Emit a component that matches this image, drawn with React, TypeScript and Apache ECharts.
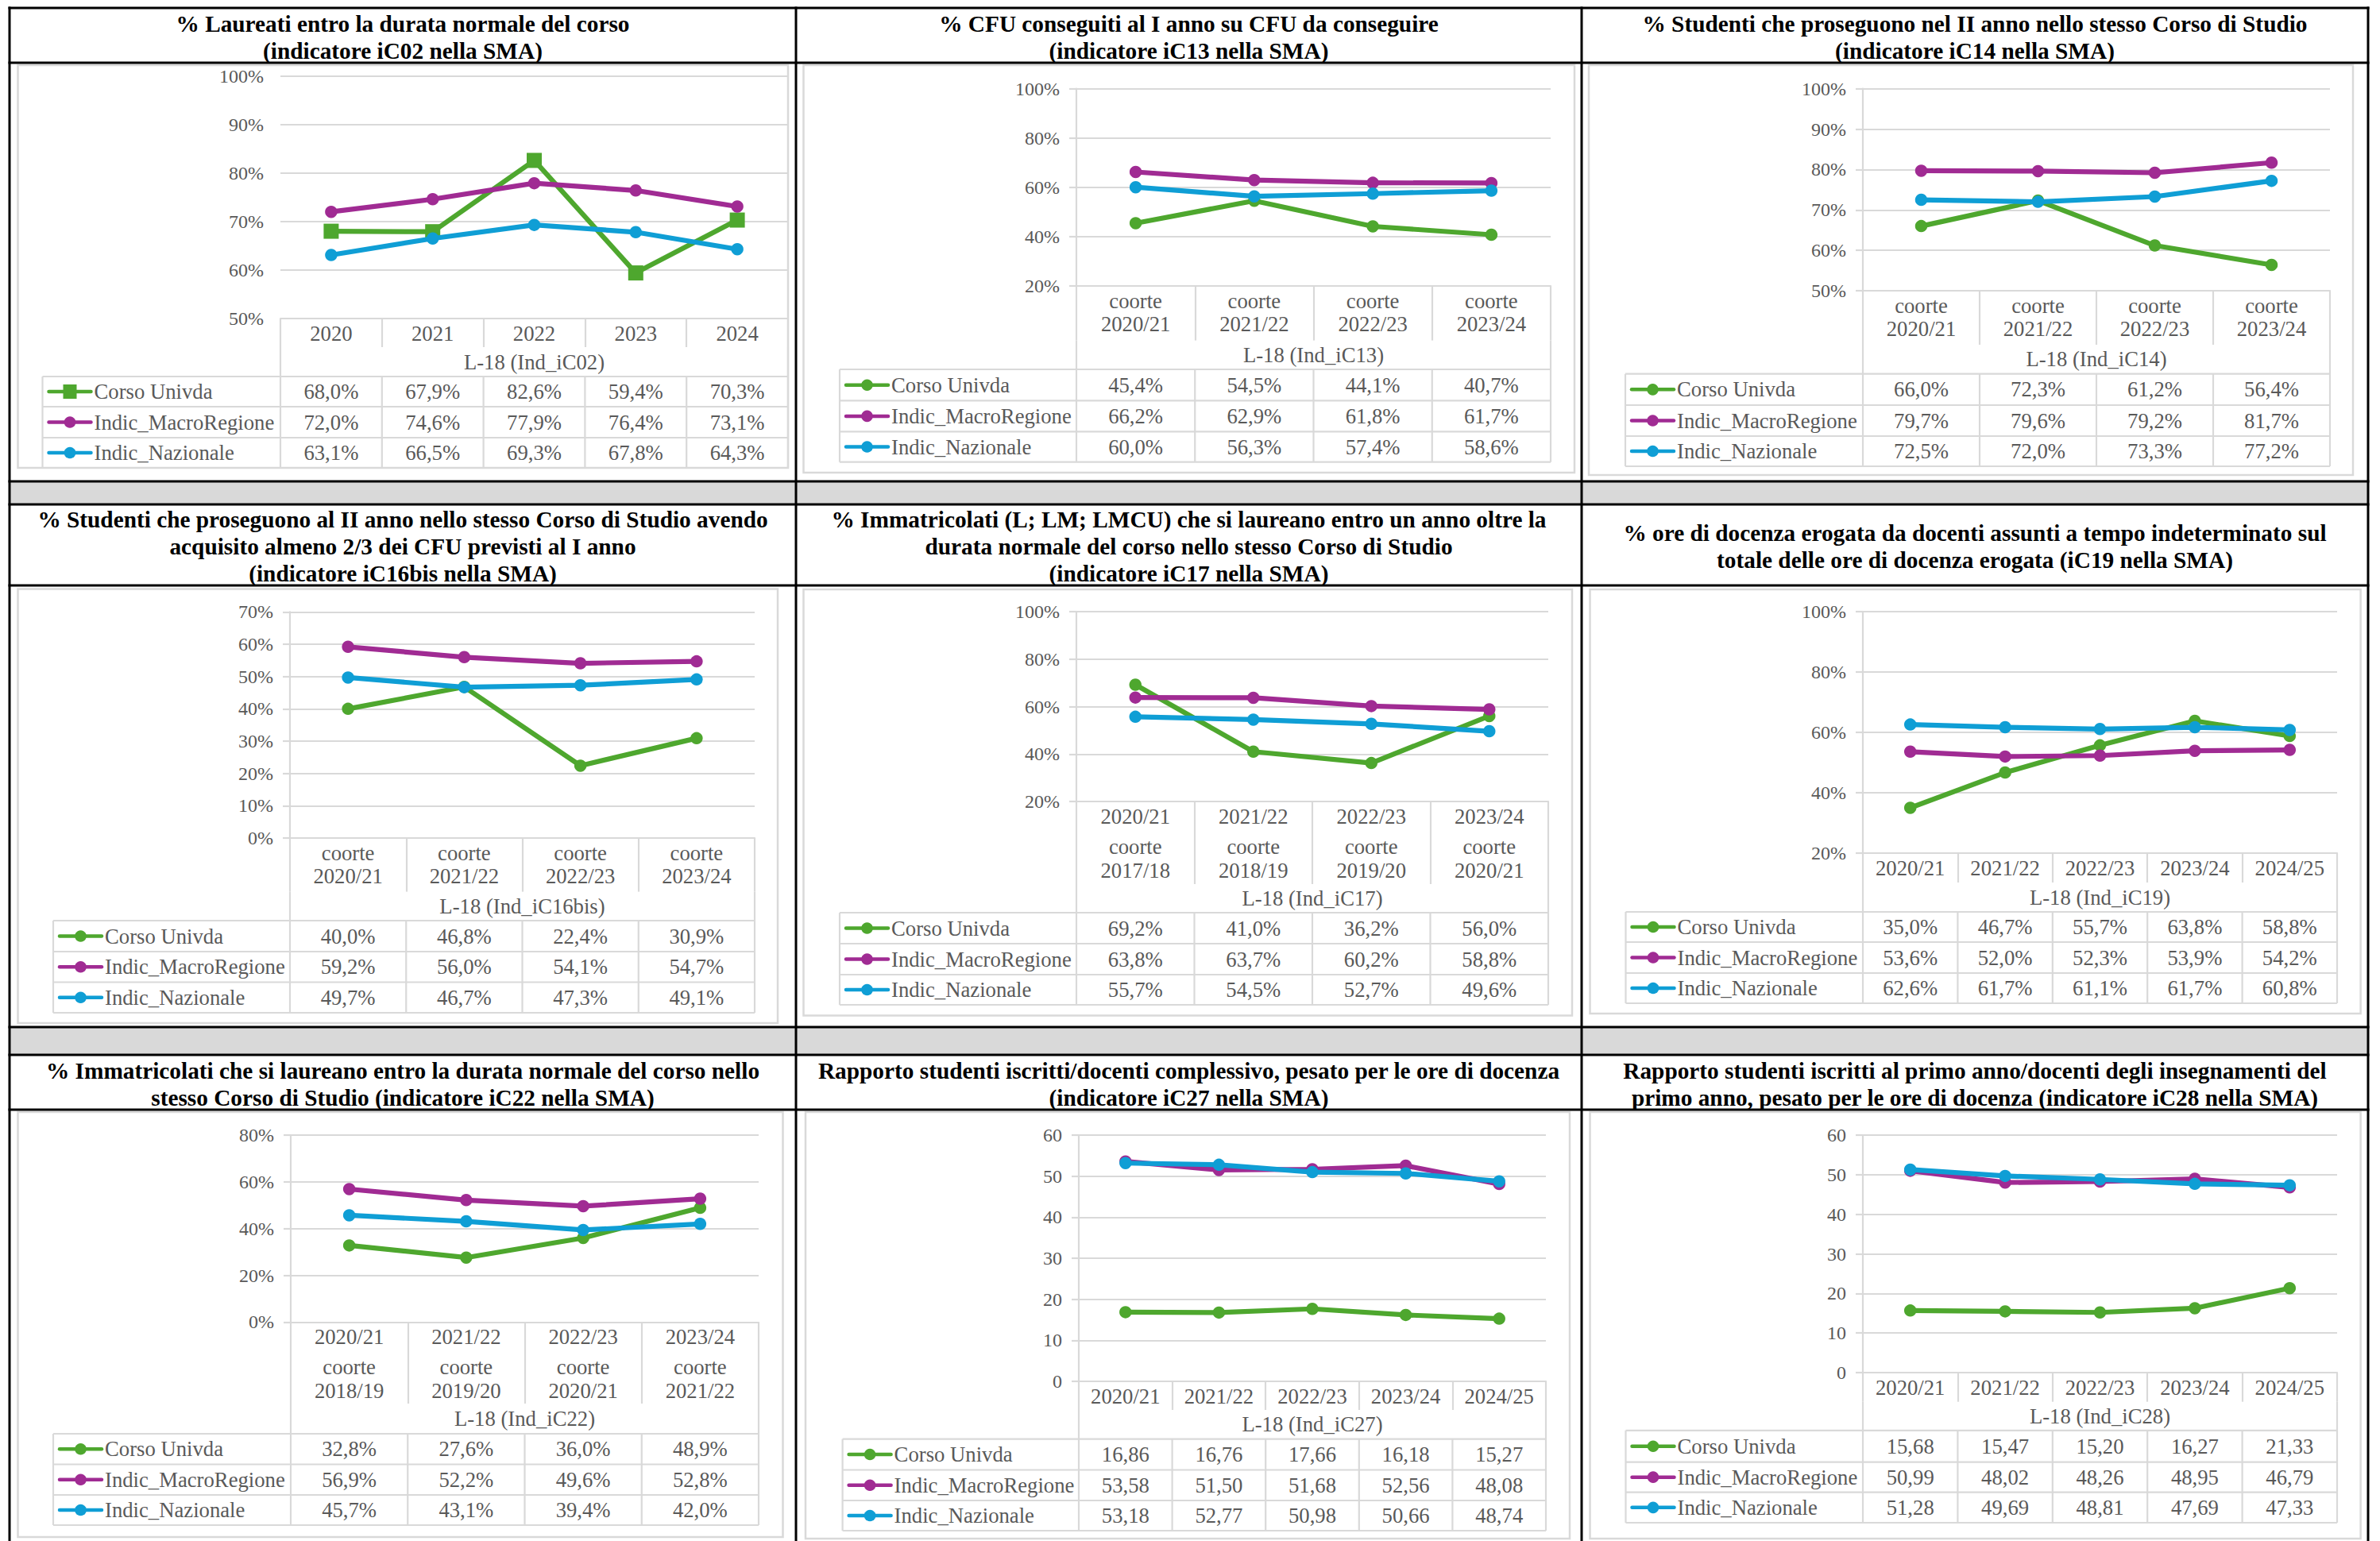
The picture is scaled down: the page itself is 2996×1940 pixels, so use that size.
import React, { useEffect, useRef } from "react";
import * as echarts from "echarts";

// ---------- data ----------
const SERIES_NAMES = ["Corso Univda", "Indic_MacroRegione", "Indic_Nazionale"];
const SERIES_COLORS = ["#4EA72E", "#A02B93", "#0F9ED5"];

const p1Title = ["% Laureati entro la durata normale del corso", "(indicatore iC02 nella SMA)"];
const p1AxisTitle = "L-18 (Ind_iC02)";
const p1Categories = ["2020", "2021", "2022", "2023", "2024"];
const p1Corso = [68.0, 67.9, 82.6, 59.4, 70.3];
const p1Macro = [72.0, 74.6, 77.9, 76.4, 73.1];
const p1Naz = [63.1, 66.5, 69.3, 67.8, 64.3];

const p2Title = ["% CFU conseguiti al I anno su CFU da conseguire", "(indicatore iC13 nella SMA)"];
const p2AxisTitle = "L-18 (Ind_iC13)";
const p2Categories = ["coorte\n2020/21", "coorte\n2021/22", "coorte\n2022/23", "coorte\n2023/24"];
const p2Corso = [45.4, 54.5, 44.1, 40.7];
const p2Macro = [66.2, 62.9, 61.8, 61.7];
const p2Naz = [60.0, 56.3, 57.4, 58.6];

const p3Title = ["% Studenti che proseguono nel II anno nello stesso Corso di Studio", "(indicatore iC14 nella SMA)"];
const p3AxisTitle = "L-18 (Ind_iC14)";
const p3Categories = ["coorte\n2020/21", "coorte\n2021/22", "coorte\n2022/23", "coorte\n2023/24"];
const p3Corso = [66.0, 72.3, 61.2, 56.4];
const p3Macro = [79.7, 79.6, 79.2, 81.7];
const p3Naz = [72.5, 72.0, 73.3, 77.2];

const p4Title = [
  "% Studenti che proseguono al II anno nello stesso Corso di Studio avendo",
  "acquisito almeno 2/3 dei CFU previsti al I anno",
  "(indicatore iC16bis nella SMA)",
];
const p4AxisTitle = "L-18 (Ind_iC16bis)";
const p4Categories = ["coorte\n2020/21", "coorte\n2021/22", "coorte\n2022/23", "coorte\n2023/24"];
const p4Corso = [40.0, 46.8, 22.4, 30.9];
const p4Macro = [59.2, 56.0, 54.1, 54.7];
const p4Naz = [49.7, 46.7, 47.3, 49.1];

const p5Title = [
  "% Immatricolati (L; LM; LMCU) che si laureano entro un anno oltre la",
  "durata normale del corso nello stesso Corso di Studio",
  "(indicatore iC17 nella SMA)",
];
const p5AxisTitle = "L-18 (Ind_iC17)";
const p5Categories = ["2020/21\ncoorte\n2017/18", "2021/22\ncoorte\n2018/19", "2022/23\ncoorte\n2019/20", "2023/24\ncoorte\n2020/21"];
const p5Corso = [69.2, 41.0, 36.2, 56.0];
const p5Macro = [63.8, 63.7, 60.2, 58.8];
const p5Naz = [55.7, 54.5, 52.7, 49.6];

const p6Title = [
  "% ore di docenza erogata da docenti assunti a tempo indeterminato sul",
  "totale delle ore di docenza erogata (iC19 nella SMA)",
];
const p6AxisTitle = "L-18 (Ind_iC19)";
const p6Categories = ["2020/21", "2021/22", "2022/23", "2023/24", "2024/25"];
const p6Corso = [35.0, 46.7, 55.7, 63.8, 58.8];
const p6Macro = [53.6, 52.0, 52.3, 53.9, 54.2];
const p6Naz = [62.6, 61.7, 61.1, 61.7, 60.8];

const p7Title = [
  "% Immatricolati che si laureano entro la durata normale del corso nello",
  "stesso Corso di Studio (indicatore iC22 nella SMA)",
];
const p7AxisTitle = "L-18 (Ind_iC22)";
const p7Categories = ["2020/21\ncoorte\n2018/19", "2021/22\ncoorte\n2019/20", "2022/23\ncoorte\n2020/21", "2023/24\ncoorte\n2021/22"];
const p7Corso = [32.8, 27.6, 36.0, 48.9];
const p7Macro = [56.9, 52.2, 49.6, 52.8];
const p7Naz = [45.7, 43.1, 39.4, 42.0];

const p8Title = [
  "Rapporto studenti iscritti/docenti complessivo, pesato per le ore di docenza",
  "(indicatore iC27 nella SMA)",
];
const p8AxisTitle = "L-18 (Ind_iC27)";
const p8Categories = ["2020/21", "2021/22", "2022/23", "2023/24", "2024/25"];
const p8Corso = [16.86, 16.76, 17.66, 16.18, 15.27];
const p8Macro = [53.58, 51.50, 51.68, 52.56, 48.08];
const p8Naz = [53.18, 52.77, 50.98, 50.66, 48.74];

const p9Title = [
  "Rapporto studenti iscritti al primo anno/docenti degli insegnamenti del",
  "primo anno, pesato per le ore di docenza (indicatore iC28 nella SMA)",
];
const p9AxisTitle = "L-18 (Ind_iC28)";
const p9Categories = ["2020/21", "2021/22", "2022/23", "2023/24", "2024/25"];
const p9Corso = [15.68, 15.47, 15.20, 16.27, 21.33];
const p9Macro = [50.99, 48.02, 48.26, 48.95, 46.79];
const p9Naz = [51.28, 49.69, 48.81, 47.69, 47.33];

// y axis scales: [min, max, step]
const p1Scale = [50, 100, 10];
const p2Scale = [20, 100, 20];
const p3Scale = [50, 100, 10];
const p4Scale = [0, 70, 10];
const p5Scale = [20, 100, 20];
const p6Scale = [20, 100, 20];
const p7Scale = [0, 80, 20];
const p8Scale = [0, 60, 10];
const p9Scale = [0, 60, 10];

const PANELS = [
  { title: p1Title, axisTitle: p1AxisTitle, categories: p1Categories, values: [p1Corso, p1Macro, p1Naz], scale: p1Scale, pct: true, decimals: 1, square: true },
  { title: p2Title, axisTitle: p2AxisTitle, categories: p2Categories, values: [p2Corso, p2Macro, p2Naz], scale: p2Scale, pct: true, decimals: 1 },
  { title: p3Title, axisTitle: p3AxisTitle, categories: p3Categories, values: [p3Corso, p3Macro, p3Naz], scale: p3Scale, pct: true, decimals: 1 },
  { title: p4Title, axisTitle: p4AxisTitle, categories: p4Categories, values: [p4Corso, p4Macro, p4Naz], scale: p4Scale, pct: true, decimals: 1 },
  { title: p5Title, axisTitle: p5AxisTitle, categories: p5Categories, values: [p5Corso, p5Macro, p5Naz], scale: p5Scale, pct: true, decimals: 1 },
  { title: p6Title, axisTitle: p6AxisTitle, categories: p6Categories, values: [p6Corso, p6Macro, p6Naz], scale: p6Scale, pct: true, decimals: 1 },
  { title: p7Title, axisTitle: p7AxisTitle, categories: p7Categories, values: [p7Corso, p7Macro, p7Naz], scale: p7Scale, pct: true, decimals: 1 },
  { title: p8Title, axisTitle: p8AxisTitle, categories: p8Categories, values: [p8Corso, p8Macro, p8Naz], scale: p8Scale, pct: false, decimals: 2 },
  { title: p9Title, axisTitle: p9AxisTitle, categories: p9Categories, values: [p9Corso, p9Macro, p9Naz], scale: p9Scale, pct: false, decimals: 2 },
];

// ---------- layout (pixels) ----------
const COLS = [12, 1002, 1991, 2981];
const TITLE_ROWS = [[10, 79], [635, 737], [1328, 1397]];
const H_BORDERS = [10, 79, 606, 635, 737, 1293, 1328, 1397];
const GRAY_ROWS = [[606, 635], [1293, 1328]];

const LAYOUTS = [
  { frame: [22.5, 82, 992, 589], plot: [353, 95.7, 992, 401], catB: 437, titleB: 474, rows: [512, 551, 589], legL: 53.5, yLine: false },
  { frame: [1011.5, 82, 1982, 595], plot: [1355, 111.7, 1952, 359.7], catB: 428.6, titleB: 465, rows: [504.4, 543.4, 581.7], legL: 1057, yLine: true },
  { frame: [2000, 82, 2962, 598], plot: [2345, 111.7, 2933, 366], catB: 434, titleB: 470.7, rows: [510, 549, 587], legL: 2046, yLine: true },
  { frame: [22.5, 741.5, 979, 1288], plot: [365, 770.4, 950, 1055], catB: 1122.6, titleB: 1159, rows: [1198, 1236.5, 1275], legL: 67, yLine: true },
  { frame: [1011.5, 742, 1979, 1278.6], plot: [1355, 770, 1949, 1009], catB: 1113, titleB: 1149, rows: [1188, 1227, 1265], legL: 1057, yLine: true },
  { frame: [2001.5, 742, 2971.6, 1276], plot: [2345, 770, 2942, 1074], catB: 1111, titleB: 1148, rows: [1186, 1225, 1263], legL: 2046.5, yLine: true },
  { frame: [22.5, 1400, 985.5, 1935], plot: [366, 1429, 955, 1664.4], catB: 1767, titleB: 1805, rows: [1843.5, 1882, 1920], legL: 67, yLine: true },
  { frame: [1014, 1400, 1976, 1937], plot: [1358, 1429, 1946, 1739], catB: 1775, titleB: 1811.6, rows: [1850.5, 1889, 1927], legL: 1060.6, yLine: true },
  { frame: [2001.5, 1400, 2971.6, 1937], plot: [2345, 1429, 2942, 1728], catB: 1764.7, titleB: 1800.8, rows: [1840.6, 1878.7, 1917], legL: 2046.5, yLine: true },
];

const FONT = "'Liberation Serif', 'Times New Roman', serif";
const GRAYTXT = "#595959";
const LIGHT = "#D9D9D9";
const TABLE_FS = 26.7;
const AXIS_FS = 24;
const TITLE_FS = 29.3;
const THIN = 2.2;

function fmt(v: number, decimals: number, pct: boolean) {
  return v.toFixed(decimals).replace(".", ",") + (pct ? "%" : "");
}

function txt(text: string, x: number, y: number, opts: any = {}) {
  return {
    type: "text",
    x,
    y,
    silent: true,
    z: opts.z ?? 10,
    style: {
      text,
      fill: opts.fill ?? GRAYTXT,
      fontSize: opts.fontSize ?? TABLE_FS,
      fontFamily: FONT,
      fontWeight: opts.fontWeight ?? "normal",
      align: opts.align ?? "center",
      textAlign: opts.align ?? "center",
      verticalAlign: "middle",
      textVerticalAlign: "middle",
      lineHeight: opts.lineHeight,
    },
  };
}

function line(x1: number, y1: number, x2: number, y2: number, stroke: string, lineWidth: number, z = 5, cap = "butt") {
  return { type: "line", silent: true, z, shape: { x1, y1, x2, y2 }, style: { stroke, lineWidth, lineCap: cap } };
}

function buildOption() {
  const grids: any[] = [];
  const xAxes: any[] = [];
  const yAxes: any[] = [];
  const series: any[] = [];
  const graphics: any[] = [];

  GRAY_ROWS.forEach(([a, b]) => {
    graphics.push({ type: "rect", silent: true, z: 1, shape: { x: COLS[0], y: a, width: COLS[3] - COLS[0], height: b - a }, style: { fill: "#D9D9D9" } });
  });
  H_BORDERS.forEach((y) => graphics.push(line(COLS[0] - 1.5, y, COLS[3] + 1.5, y, "#000", 3, 20)));
  COLS.forEach((x) => graphics.push(line(x, H_BORDERS[0] - 1.5, x, 1945, "#000", 3, 20)));

  PANELS.forEach((p, i) => {
    const L = LAYOUTS[i];
    const [pl, pt, pr, pb] = L.plot;
    const n = p.categories.length;
    const colW = (pr - pl) / n;
    const col = i % 3;
    const row = Math.floor(i / 3);

    const [ta, tb] = TITLE_ROWS[row];
    graphics.push(
      txt(p.title.join("\n"), (COLS[col] + COLS[col + 1]) / 2, (ta + tb) / 2 + 2, {
        fill: "#000",
        fontSize: TITLE_FS,
        fontWeight: "bold",
        lineHeight: 34,
      })
    );

    const [fl, ft, fr, fb] = L.frame;
    graphics.push({ type: "rect", silent: true, z: 2, shape: { x: fl, y: ft, width: fr - fl, height: fb - ft }, style: { fill: "none", stroke: LIGHT, lineWidth: 2.5 } });

    graphics.push(line(pl, L.catB, pl, L.rows[2], LIGHT, THIN));
    graphics.push(line(pr, L.catB, pr, L.rows[2], LIGHT, THIN));
    graphics.push(line(L.legL, L.titleB, L.legL, L.rows[2], LIGHT, THIN));
    [L.titleB, ...L.rows].forEach((y) => graphics.push(line(L.legL, y, pr, y, LIGHT, THIN)));
    for (let k = 1; k < n; k++) {
      const x = pl + colW * k;
      graphics.push(line(x, L.titleB, x, L.rows[2], LIGHT, THIN));
    }

    p.values.forEach((vals, s) => {
      const top = s === 0 ? L.titleB : L.rows[s - 1];
      const cy = (top + L.rows[s]) / 2;
      const kx1 = L.legL + 8;
      const kx2 = L.legL + 61;
      graphics.push(line(kx1, cy, kx2, cy, SERIES_COLORS[s], 4.5, 11, "round"));
      if (p.square && s === 0) {
        graphics.push({ type: "rect", silent: true, z: 12, shape: { x: (kx1 + kx2) / 2 - 8.5, y: cy - 9, width: 17, height: 18 }, style: { fill: SERIES_COLORS[s] } });
      } else {
        graphics.push({ type: "circle", silent: true, z: 12, shape: { cx: (kx1 + kx2) / 2, cy, r: 7.3 }, style: { fill: SERIES_COLORS[s] } });
      }
      graphics.push(txt(SERIES_NAMES[s], L.legL + 65, cy, { align: "left" }));
      vals.forEach((v, k) => {
        graphics.push(txt(fmt(v, p.decimals, p.pct), pl + colW * (k + 0.5), cy));
      });
    });

    const [ymin, ymax, ystep] = p.scale;
    const threeLine = p.categories[0].split("\n").length === 3;

    grids.push({ left: pl, top: pt, width: pr - pl, height: pb - pt, containLabel: false });
    xAxes.push({
      type: "category",
      gridIndex: i,
      data: p.categories,
      boundaryGap: true,
      axisLine: { show: true, lineStyle: { color: LIGHT, width: THIN } },
      axisTick: { show: true, interval: 0, length: L.catB - pb, lineStyle: { color: LIGHT, width: THIN } },
      axisLabel: {
        interval: 0,
        margin: threeLine ? 0 : 4.5,
        color: GRAYTXT,
        fontSize: TABLE_FS,
        fontFamily: FONT,
        formatter: (v: string) => {
          const parts = v.split("\n");
          if (parts.length === 3) return `{a|${parts[0]}}\n{a|${parts[1]}}\n{c|${parts[2]}}`;
          return parts.map((s) => `{d|${s}}`).join("\n");
        },
        rich: {
          a: { fontSize: TABLE_FS, fontFamily: FONT, color: GRAYTXT, lineHeight: 38 },
          c: { fontSize: TABLE_FS, fontFamily: FONT, color: GRAYTXT, lineHeight: 22 },
          d: { fontSize: TABLE_FS, fontFamily: FONT, color: GRAYTXT, lineHeight: 29 },
        },
      },
      splitLine: { show: false },
      name: p.axisTitle,
      nameLocation: "middle",
      nameGap: (L.catB + L.titleB) / 2 - pb,
      nameTextStyle: { color: GRAYTXT, fontSize: TABLE_FS, fontFamily: FONT, verticalAlign: "middle" },
    });
    yAxes.push({
      type: "value",
      gridIndex: i,
      min: ymin,
      max: ymax,
      interval: ystep,
      axisLine: { show: L.yLine, lineStyle: { color: LIGHT, width: THIN } },
      axisTick: { show: L.yLine, length: 9, lineStyle: { color: LIGHT, width: THIN } },
      splitLine: { show: true, lineStyle: { color: LIGHT, width: THIN } },
      axisLabel: {
        color: GRAYTXT,
        fontSize: AXIS_FS,
        fontFamily: FONT,
        margin: 21,
        formatter: (v: number) => (p.pct ? `${v}%` : `${v}`),
      },
    });

    p.values.forEach((vals, s) => {
      series.push({
        type: "line",
        name: SERIES_NAMES[s],
        xAxisIndex: i,
        yAxisIndex: i,
        data: vals,
        symbol: p.square && s === 0 ? "rect" : "circle",
        symbolSize: p.square && s === 0 ? 19 : 15.5,
        showSymbol: true,
        lineStyle: { width: 6.2, color: SERIES_COLORS[s], cap: "round", join: "round" },
        itemStyle: { color: SERIES_COLORS[s] },
        z: 3 + s,
        silent: true,
      });
    });
  });

  return {
    animation: false,
    backgroundColor: "#ffffff",
    textStyle: { fontFamily: FONT },
    grid: grids,
    xAxis: xAxes,
    yAxis: yAxes,
    series,
    graphic: { elements: graphics },
  };
}

export default function App() {
  const ref = useRef<HTMLDivElement>(null);
  useEffect(() => {
    document.body.style.margin = "0";
    document.body.style.overflow = "hidden";
    if (!ref.current) return;
    const chart = echarts.init(ref.current, undefined, { renderer: "svg" });
    chart.setOption(buildOption() as any);
    return () => chart.dispose();
  }, []);
  return <div ref={ref} style={{ position: "absolute", left: 0, top: 0, width: 2996, height: 1940, background: "#fff" }} />;
}
